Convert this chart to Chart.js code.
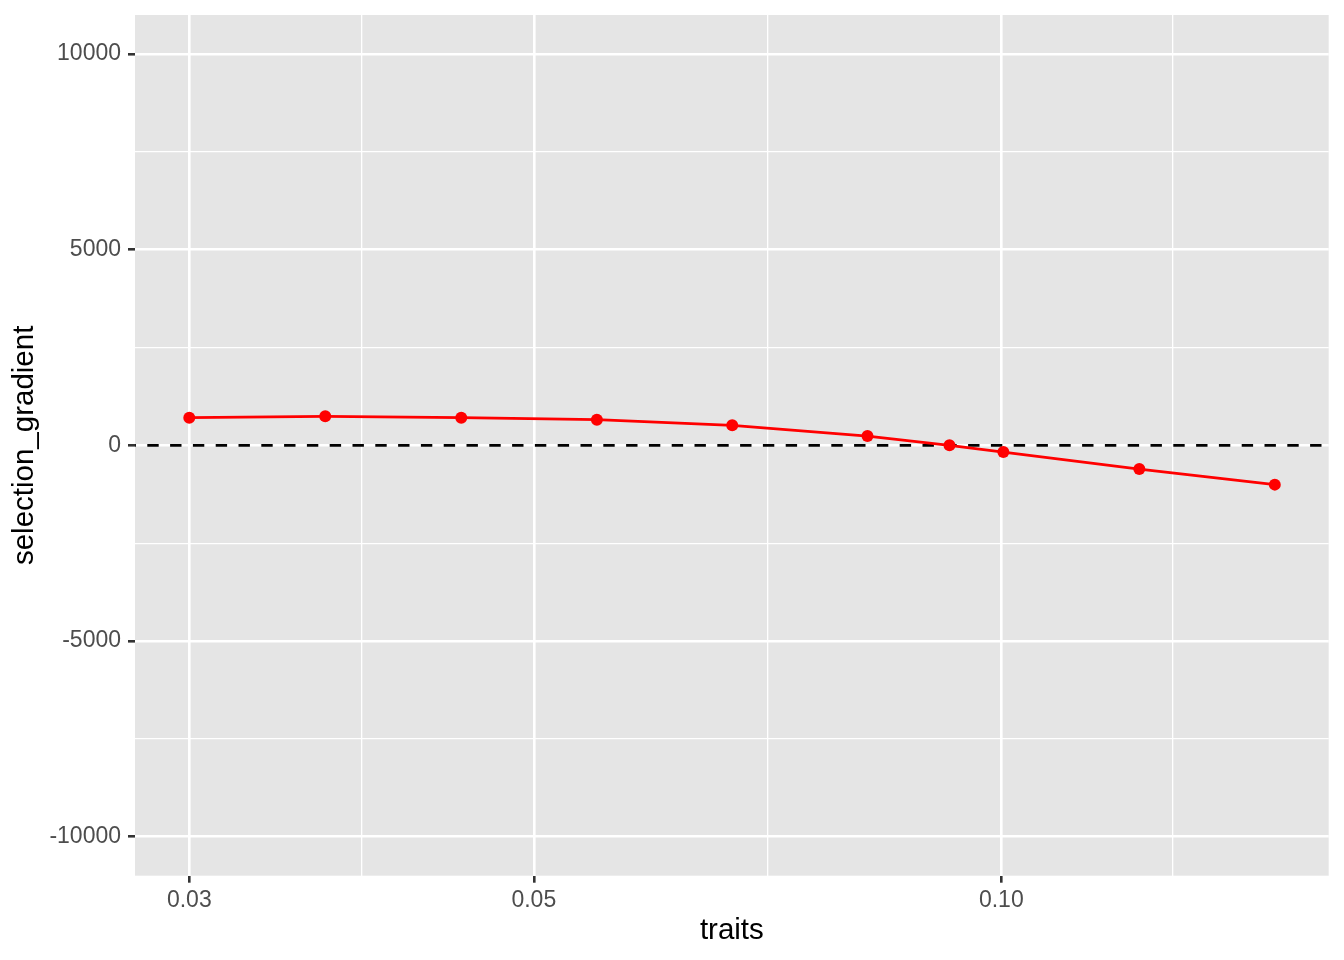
<!doctype html>
<html>
<head>
<meta charset="utf-8">
<title>selection_gradient vs traits</title>
<script src="https://cdn.jsdelivr.net/npm/chart.js"></script>
<style>
  html, body { margin: 0; padding: 0; background: #ffffff; }
  #wrap { width: 1344px; height: 960px; }
</style>
</head>
<body>
<div id="wrap"><canvas id="gradChart" width="1344" height="960"></canvas></div>
<script>
// data
const traits = [0.03, 0.0367, 0.0449, 0.0549, 0.0671, 0.0820, 0.0926, 0.1003, 0.1227, 0.15];
const selectionGradient = [708, 741, 708, 657, 511, 238, 0, -171, -606, -1004];

// axes
const xLimits = [0.02768, 0.16248];
const xMajorTicks = [0.03, 0.05, 0.1];
const xMajorLabels = ['0.03', '0.05', '0.10'];
const xMinorTicks = [0.03873, 0.07071, 0.129];
const yLimits = [-11000, 11000];
const yMajorTicks = [-10000, -5000, 0, 5000, 10000];
const yMajorLabels = ['-10000', '-5000', '0', '5000', '10000'];
const yMinorTicks = [-7500, -2500, 2500, 7500];
const hlineY = 0;

// merge major + minor ticks, keep a flag for the minor ones
function buildTicks(major, labels, minor) {
  const list = major.map((v, i) => ({ value: v, label: labels[i], minor: false }))
    .concat(minor.map(v => ({ value: v, label: '', minor: true })));
  list.sort((a, b) => a.value - b.value);
  return list;
}
const xTicks = buildTicks(xMajorTicks, xMajorLabels, xMinorTicks);
const yTicks = buildTicks(yMajorTicks, yMajorLabels, yMinorTicks);

const tickFont = { family: "'Liberation Sans', Arial, sans-serif", size: 23 };
const titleFont = { family: "'Liberation Sans', Arial, sans-serif", size: 29.5 };

// grey panel behind the grid
const panelBg = {
  id: 'panelBg',
  beforeDraw(chart) {
    const { ctx, chartArea: a } = chart;
    ctx.save();
    ctx.fillStyle = '#E5E5E5';
    ctx.fillRect(a.left, a.top, a.right - a.left, a.bottom - a.top);
    ctx.restore();
  }
};

function isMinor(ctx) {
  return ctx.tick && ctx.tick.minor;
}

const gridOpts = {
  color: '#ffffff',
  lineWidth: ctx => isMinor(ctx) ? 1.3 : 2.6,
  drawTicks: true,
  tickLength: 7,
  tickWidth: 2.6,
  tickColor: ctx => isMinor(ctx) ? 'rgba(0,0,0,0)' : '#333333'
};

new Chart(document.getElementById('gradChart').getContext('2d'), {
  type: 'line',
  data: {
    datasets: [
      {
        label: 'selection_gradient',
        data: traits.map((t, i) => ({ x: t, y: selectionGradient[i] })),
        borderColor: '#FF0000',
        backgroundColor: '#FF0000',
        borderWidth: 2.7,
        pointRadius: 6,
        pointBorderWidth: 0,
        tension: 0
      },
      {
        label: 'zero',
        data: [{ x: xLimits[0], y: hlineY }, { x: xLimits[1], y: hlineY }],
        borderColor: '#000000',
        borderWidth: 2.7,
        borderDash: [11.4, 11.4],
        borderDashOffset: 10.5,
        pointRadius: 0,
        tension: 0
      }
    ]
  },
  options: {
    responsive: false,
    animation: false,
    devicePixelRatio: 1,
    layout: { padding: { left: 0, right: 15.3, top: 15, bottom: 0 } },
    plugins: {
      legend: { display: false },
      tooltip: { enabled: false }
    },
    scales: {
      x: {
        type: 'logarithmic',
        min: xLimits[0],
        max: xLimits[1],
        afterBuildTicks: scale => {
          scale.ticks = xTicks.map(t => ({ value: t.value, minor: t.minor }));
        },
        afterFit: scale => {
          scale.height = 960 - 875.7;
          scale.paddingLeft = 0;
          scale.paddingRight = 0;
        },
        grid: gridOpts,
        border: { display: false },
        ticks: {
          autoSkip: false,
          maxRotation: 0,
          padding: 4,
          color: '#4D4D4D',
          font: tickFont,
          callback: (value, index) => xTicks[index] ? xTicks[index].label : ''
        },
        title: {
          display: true,
          text: 'traits',
          color: '#000000',
          font: titleFont,
          padding: { top: 0, bottom: 11.5 }
        }
      },
      y: {
        type: 'linear',
        min: yLimits[0],
        max: yLimits[1],
        afterBuildTicks: scale => {
          scale.ticks = yTicks.map(t => ({ value: t.value, minor: t.minor }));
        },
        afterFit: scale => {
          scale.width = 135;
          scale.paddingTop = 0;
          scale.paddingBottom = 0;
        },
        grid: gridOpts,
        border: { display: false },
        ticks: {
          autoSkip: false,
          padding: 7,
          color: '#4D4D4D',
          font: tickFont,
          callback: (value, index) => yTicks[index] ? yTicks[index].label : ''
        },
        title: {
          display: true,
          text: 'selection_gradient',
          color: '#000000',
          font: titleFont,
          padding: { top: 7, bottom: 0 }
        }
      }
    }
  },
  plugins: [panelBg]
});
</script>
</body>
</html>
